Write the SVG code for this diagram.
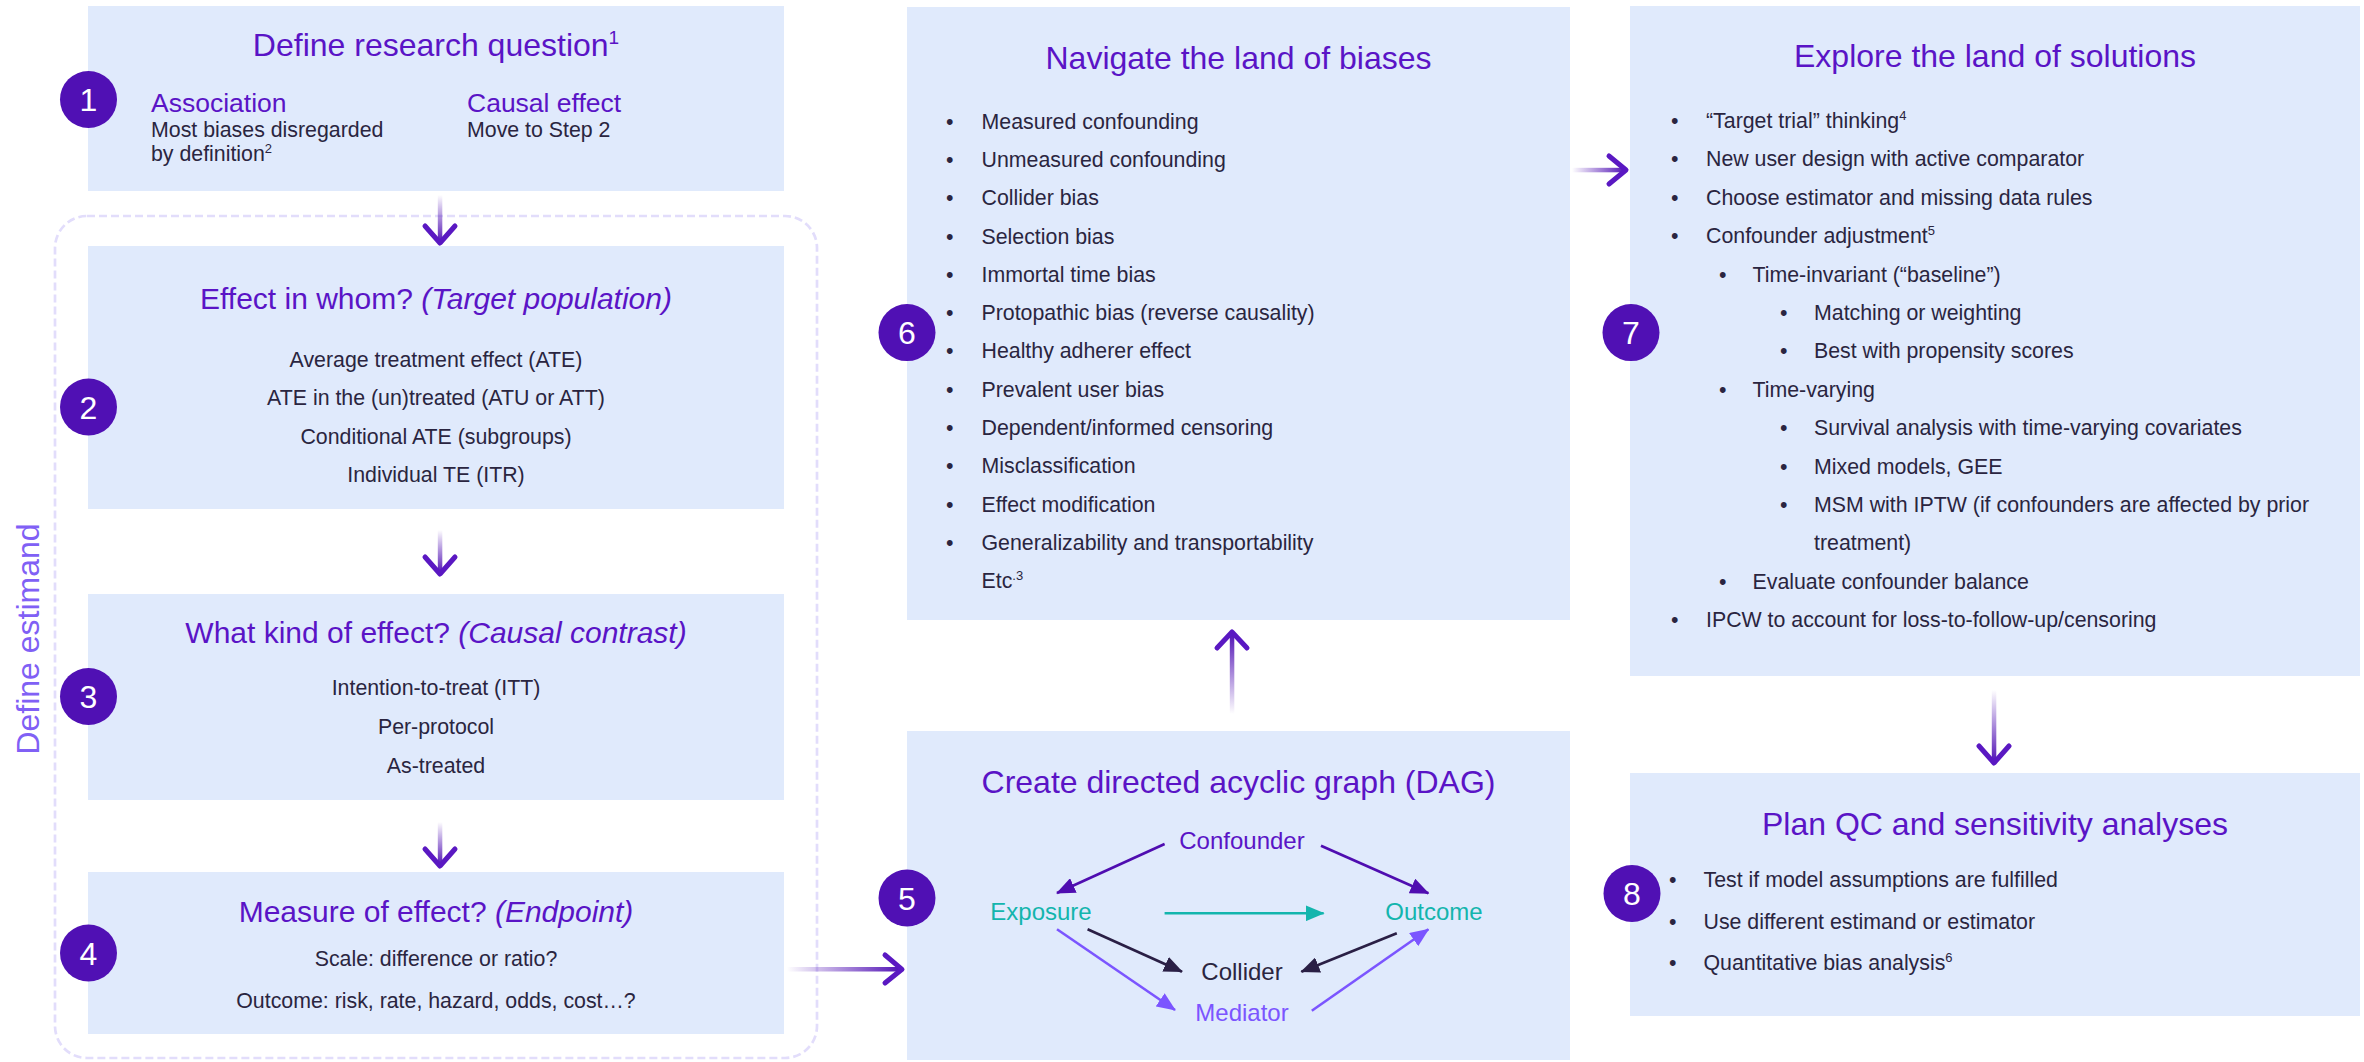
<svg xmlns="http://www.w3.org/2000/svg" width="2364" height="1062" viewBox="0 0 2364 1062">
<style>
text{font-family:"Liberation Sans",Arial,sans-serif}
.box{fill:#e0eafc}
.num{fill:#5010b4}
.numt{fill:#ffffff;font-size:32px;text-anchor:middle}
.title{fill:#5a14c6;font-size:32px;text-anchor:middle}
.t30{font-size:30px}
.sub{fill:#5a14c6;font-size:26.5px}
.body{fill:#2a2540;font-size:21.33px}
.c{text-anchor:middle}
.it{font-style:italic}
.chev{fill:none;stroke:#5a18c2;stroke-width:5;stroke-linecap:round;stroke-linejoin:round}
.dag{fill:none;stroke-width:2.6}
.lbl{font-size:24px;text-anchor:middle}
</style>
<defs>
<linearGradient id="gDown" x1="0" y1="0" x2="0" y2="1"><stop offset="0" stop-color="#5010b4" stop-opacity="0"/><stop offset="1" stop-color="#5010b4" stop-opacity="1"/></linearGradient>
<linearGradient id="gUp" x1="0" y1="1" x2="0" y2="0"><stop offset="0" stop-color="#5010b4" stop-opacity="0"/><stop offset="1" stop-color="#5010b4" stop-opacity="1"/></linearGradient>
<linearGradient id="gRight" x1="0" y1="0" x2="1" y2="0"><stop offset="0" stop-color="#5010b4" stop-opacity="0"/><stop offset="1" stop-color="#5010b4" stop-opacity="1"/></linearGradient>
<marker id="mP" markerUnits="userSpaceOnUse" markerWidth="20" markerHeight="16" refX="18" refY="8" orient="auto"><path d="M0,0 L19,8 L0,16 z" fill="#4f0db0"/></marker>
<marker id="mT" markerUnits="userSpaceOnUse" markerWidth="20" markerHeight="16" refX="18" refY="8" orient="auto"><path d="M0,0 L19,8 L0,16 z" fill="#13b5ad"/></marker>
<marker id="mD" markerUnits="userSpaceOnUse" markerWidth="20" markerHeight="16" refX="18" refY="8" orient="auto"><path d="M0,0 L19,8 L0,16 z" fill="#2a1f45"/></marker>
<marker id="mL" markerUnits="userSpaceOnUse" markerWidth="20" markerHeight="16" refX="18" refY="8" orient="auto"><path d="M0,0 L19,8 L0,16 z" fill="#7b55ff"/></marker>
</defs>

<g id="estimand-group">
<rect x="55" y="216" width="762" height="842" rx="32" fill="none" stroke="#e2ddfb" stroke-width="2.7" stroke-dasharray="8 4"/>
<text transform="translate(39,639) rotate(-90)" font-size="32" fill="#8060f5" text-anchor="middle">Define estimand</text>
</g>

<g id="connectors">
<rect x="437.8" y="195" width="4.5" height="48" fill="url(#gDown)"/>
<polyline class="chev" points="425,226 440,243 455,226"/>
<rect x="437.8" y="530" width="4.5" height="44" fill="url(#gDown)"/>
<polyline class="chev" points="425,557 440,574 455,557"/>
<rect x="437.8" y="822" width="4.5" height="44" fill="url(#gDown)"/>
<polyline class="chev" points="425,849 440,866 455,849"/>
<rect x="787" y="967" width="115" height="4.5" fill="url(#gRight)"/>
<polyline class="chev" points="885,955 902,969.3 885,983"/>
<rect x="1229.8" y="632" width="4.5" height="82" fill="url(#gUp)"/>
<polyline class="chev" points="1217,648 1232,632 1247,648"/>
<rect x="1572" y="167.8" width="54" height="4.5" fill="url(#gRight)"/>
<polyline class="chev" points="1609,156 1626,170 1609,184"/>
<rect x="1991.8" y="690" width="4.5" height="73" fill="url(#gDown)"/>
<polyline class="chev" points="1979,746 1994,763 2009,746"/>
</g>

<g id="step1">
<rect class="box" x="88" y="6" width="696" height="185"/>
<text class="title" x="436" y="56">Define research question<tspan font-size="19" dy="-12">1</tspan></text>
<text class="sub" x="151" y="111.5">Association</text>
<text class="body" x="151" y="136.7">Most biases disregarded</text>
<text class="body" x="151" y="161">by definition<tspan font-size="13" dy="-8">2</tspan></text>
<text class="sub" x="467" y="111.5">Causal effect</text>
<text class="body" x="467" y="136.7">Move to Step 2</text>
<circle class="num" cx="88.5" cy="99.5" r="28.5"/>
<text class="numt" x="88.5" y="111">1</text>
</g>

<g id="step2">
<rect class="box" x="88" y="246" width="696" height="263"/>
<text class="title t30" x="436" y="308.5">Effect in whom? <tspan class="it">(Target population)</tspan></text>
<text class="body c" x="436" y="366.5">Average treatment effect (ATE)</text>
<text class="body c" x="436" y="405">ATE in the (un)treated (ATU or ATT)</text>
<text class="body c" x="436" y="443.5">Conditional ATE (subgroups)</text>
<text class="body c" x="436" y="481.5">Individual TE (ITR)</text>
<circle class="num" cx="88.5" cy="407" r="28.5"/>
<text class="numt" x="88.5" y="418.5">2</text>
</g>

<g id="step3">
<rect class="box" x="88" y="594" width="696" height="206"/>
<text class="title t30" x="436" y="643">What kind of effect? <tspan class="it">(Causal contrast)</tspan></text>
<text class="body c" x="436" y="695">Intention-to-treat (ITT)</text>
<text class="body c" x="436" y="734">Per-protocol</text>
<text class="body c" x="436" y="773">As-treated</text>
<circle class="num" cx="88.5" cy="696.5" r="28.5"/>
<text class="numt" x="88.5" y="708">3</text>
</g>

<g id="step4">
<rect class="box" x="88" y="872" width="696" height="162"/>
<text class="title t30" x="436" y="922">Measure of effect? <tspan class="it">(Endpoint)</tspan></text>
<text class="body c" x="436" y="966">Scale: difference or ratio?</text>
<text class="body c" x="436" y="1008">Outcome: risk, rate, hazard, odds, cost…?</text>
<circle class="num" cx="88.5" cy="953" r="28.5"/>
<text class="numt" x="88.5" y="964.5">4</text>
</g>

<g id="step5">
<rect class="box" x="907" y="731" width="663" height="329"/>
<text class="title" x="1238.5" y="793">Create directed acyclic graph (DAG)</text>
<g id="dag-edges">
<line class="dag" x1="1164.6" y1="844" x2="1057" y2="893" stroke="#4f0db0" marker-end="url(#mP)"/>
<line class="dag" x1="1321" y1="845.7" x2="1428.4" y2="893.3" stroke="#4f0db0" marker-end="url(#mP)"/>
<line class="dag" x1="1164.6" y1="913.3" x2="1323.6" y2="913.3" stroke="#13b5ad" marker-end="url(#mT)"/>
<line class="dag" x1="1087.6" y1="929.3" x2="1182" y2="971.7" stroke="#2a1f45" marker-end="url(#mD)"/>
<line class="dag" x1="1396.8" y1="933.3" x2="1301.4" y2="971.7" stroke="#2a1f45" marker-end="url(#mD)"/>
<line class="dag" x1="1057" y1="929.3" x2="1175" y2="1010" stroke="#7b55ff" marker-end="url(#mL)"/>
<line class="dag" x1="1311.8" y1="1010.7" x2="1428.4" y2="929.3" stroke="#7b55ff" marker-end="url(#mL)"/>
</g>
<text class="lbl" x="1242" y="849" fill="#5a14c6">Confounder</text>
<text class="lbl" x="1041" y="920" fill="#13b5ad">Exposure</text>
<text class="lbl" x="1434" y="920" fill="#13b5ad">Outcome</text>
<text class="lbl" x="1242" y="980" fill="#2a2540">Collider</text>
<text class="lbl" x="1242" y="1021" fill="#7b55ff">Mediator</text>
<circle class="num" cx="907" cy="898" r="28.5"/>
<text class="numt" x="907" y="909.5">5</text>
</g>

<g id="step6">
<rect class="box" x="907" y="7" width="663" height="613"/>
<text class="title" x="1238.5" y="69.4">Navigate the land of biases</text>
<g class="body">
<text x="946" y="128.6">•</text><text x="981.5" y="128.6">Measured confounding</text>
<text x="946" y="166.9">•</text><text x="981.5" y="166.9">Unmeasured confounding</text>
<text x="946" y="205.2">•</text><text x="981.5" y="205.2">Collider bias</text>
<text x="946" y="243.5">•</text><text x="981.5" y="243.5">Selection bias</text>
<text x="946" y="281.8">•</text><text x="981.5" y="281.8">Immortal time bias</text>
<text x="946" y="320.1">•</text><text x="981.5" y="320.1">Protopathic bias (reverse causality)</text>
<text x="946" y="358.4">•</text><text x="981.5" y="358.4">Healthy adherer effect</text>
<text x="946" y="396.7">•</text><text x="981.5" y="396.7">Prevalent user bias</text>
<text x="946" y="435">•</text><text x="981.5" y="435">Dependent/informed censoring</text>
<text x="946" y="473.3">•</text><text x="981.5" y="473.3">Misclassification</text>
<text x="946" y="511.6">•</text><text x="981.5" y="511.6">Effect modification</text>
<text x="946" y="549.9">•</text><text x="981.5" y="549.9">Generalizability and transportability</text>
<text x="981.5" y="588.2">Etc<tspan font-size="13" dy="-8">.3</tspan></text>
</g>
<circle class="num" cx="907" cy="332.6" r="28.5"/>
<text class="numt" x="907" y="344">6</text>
</g>

<g id="step7">
<rect class="box" x="1630" y="6" width="730" height="670"/>
<text class="title" x="1995" y="67">Explore the land of solutions</text>
<g class="body">
<text x="1671" y="128">•</text><text x="1706" y="128">“Target trial” thinking<tspan font-size="13" dy="-8">4</tspan></text>
<text x="1671" y="166.4">•</text><text x="1706" y="166.4">New user design with active comparator</text>
<text x="1671" y="204.8">•</text><text x="1706" y="204.8">Choose estimator and missing data rules</text>
<text x="1671" y="243.2">•</text><text x="1706" y="243.2">Confounder adjustment<tspan font-size="13" dy="-8">5</tspan></text>
<text x="1719" y="281.6">•</text><text x="1752.5" y="281.6">Time-invariant (“baseline”)</text>
<text x="1780" y="320">•</text><text x="1814" y="320">Matching or weighting</text>
<text x="1780" y="358.4">•</text><text x="1814" y="358.4">Best with propensity scores</text>
<text x="1719" y="396.8">•</text><text x="1752.5" y="396.8">Time-varying</text>
<text x="1780" y="435.2">•</text><text x="1814" y="435.2">Survival analysis with time-varying covariates</text>
<text x="1780" y="473.6">•</text><text x="1814" y="473.6">Mixed models, GEE</text>
<text x="1780" y="512">•</text><text x="1814" y="512">MSM with IPTW (if confounders are affected by prior</text>
<text x="1814" y="550.4">treatment)</text>
<text x="1719" y="588.8">•</text><text x="1752.5" y="588.8">Evaluate confounder balance</text>
<text x="1671" y="627.2">•</text><text x="1706" y="627.2">IPCW to account for loss-to-follow-up/censoring</text>
</g>
<circle class="num" cx="1631" cy="332.6" r="28.5"/>
<text class="numt" x="1631" y="344">7</text>
</g>

<g id="step8">
<rect class="box" x="1630" y="773" width="730" height="243"/>
<text class="title" x="1995" y="835">Plan QC and sensitivity analyses</text>
<g class="body">
<text x="1669" y="887">•</text><text x="1703.5" y="887">Test if model assumptions are fulfilled</text>
<text x="1669" y="928.5">•</text><text x="1703.5" y="928.5">Use different estimand or estimator</text>
<text x="1669" y="970">•</text><text x="1703.5" y="970">Quantitative bias analysis<tspan font-size="13" dy="-8">6</tspan></text>
</g>
<circle class="num" cx="1632" cy="893.5" r="28.5"/>
<text class="numt" x="1632" y="905">8</text>
</g>
</svg>
